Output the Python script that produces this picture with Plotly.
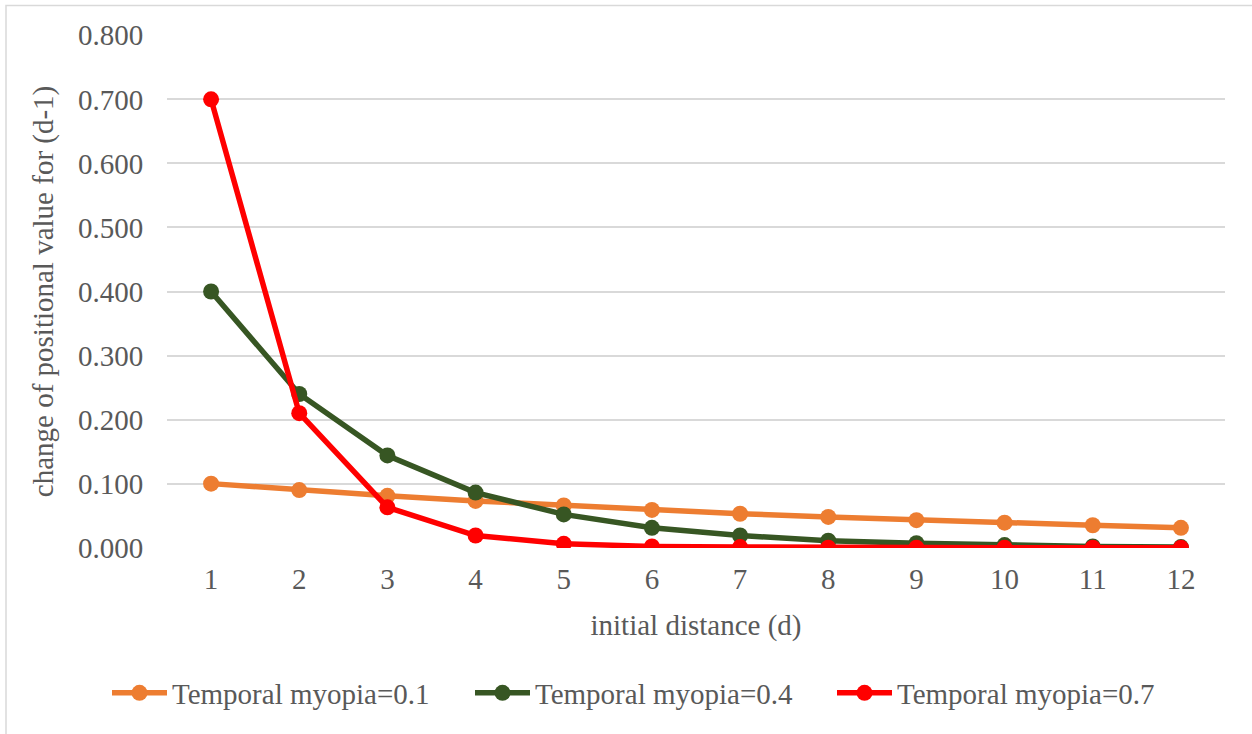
import plotly.graph_objects as go

distance = [1, 2, 3, 4, 5, 6, 7, 8, 9, 10, 11, 12]
myopia_01 = [0.100, 0.090, 0.081, 0.073, 0.066, 0.059, 0.053, 0.048, 0.043, 0.039, 0.035, 0.031]
myopia_04 = [0.400, 0.240, 0.144, 0.086, 0.052, 0.031, 0.019, 0.011, 0.007, 0.004, 0.002, 0.001]
myopia_07 = [0.700, 0.210, 0.063, 0.019, 0.006, 0.002, 0.001, 0.000, 0.000, 0.000, 0.000, 0.000]
y_ticks = [0.0, 0.1, 0.2, 0.3, 0.4, 0.5, 0.6, 0.7, 0.8]

series = [
    ("Temporal myopia=0.1", myopia_01, "#ED7D31"),
    ("Temporal myopia=0.4", myopia_04, "#375623"),
    ("Temporal myopia=0.7", myopia_07, "#FF0000"),
]
legend_ids = ["legend", "legend2", "legend3"]
legend_left_px = [107, 470, 832]

FONT = "'Liberation Serif', 'Times New Roman', serif"
GREY = "#595959"
FS = 29
W, H = 1252, 734

fig = go.Figure()
for (name, vals, col), lid in zip(series, legend_ids):
    fig.add_trace(go.Scatter(
        x=[str(d) for d in distance], y=vals, name=name, mode="lines+markers",
        line=dict(color=col, width=5.5),
        marker=dict(color=col, size=16),
        legend=lid,
    ))

legend_layout = {}
for lid, lx in zip(legend_ids, legend_left_px):
    legend_layout[lid] = dict(
        orientation="h", xref="container", yref="container",
        x=lx / W, xanchor="left", y=1 - 693 / H, yanchor="middle",
        font=dict(family=FONT, size=FS, color=GREY), itemwidth=55,
        bgcolor="rgba(0,0,0,0)",
    )

fig.update_layout(
    width=W, height=H,
    margin=dict(l=167, r=27, t=35, b=186, autoexpand=False),
    paper_bgcolor="white", plot_bgcolor="white",
    font=dict(family=FONT, size=FS, color=GREY),
    showlegend=True,
    xaxis=dict(
        type="category", range=[-0.5, 11.5],
        showgrid=False, zeroline=False, showline=False,
        ticks="outside", tickcolor="rgba(0,0,0,0)", ticklen=5,
        tickfont=dict(family=FONT, size=FS, color=GREY),
        title=dict(text="initial distance (d)", standoff=20,
                   font=dict(family=FONT, size=FS, color=GREY)),
    ),
    yaxis=dict(
        range=[-0.0005, 0.8005], tickvals=y_ticks, tickformat=".3f",
        showgrid=True, gridcolor="#D9D9D9", gridwidth=1.5,
        zeroline=False, showline=False,
        ticks="outside", tickcolor="rgba(0,0,0,0)", ticklen=17,
        tickfont=dict(family=FONT, size=FS, color=GREY),
        title=dict(text="change of positional value for (d-1)", standoff=15,
                   font=dict(family=FONT, size=FS, color=GREY)),
    ),
    shapes=[dict(type="rect", xref="paper", yref="paper",
                 x0=(6 - 167) / 1058, x1=(1262 - 167) / 1058,
                 y0=-(750 - 548) / 513, y1=1 + (35 - 5.5) / 513,
                 line=dict(color="#D9D9D9", width=1.5), layer="below")],
    **legend_layout,
)

fig.write_html("out.html")
